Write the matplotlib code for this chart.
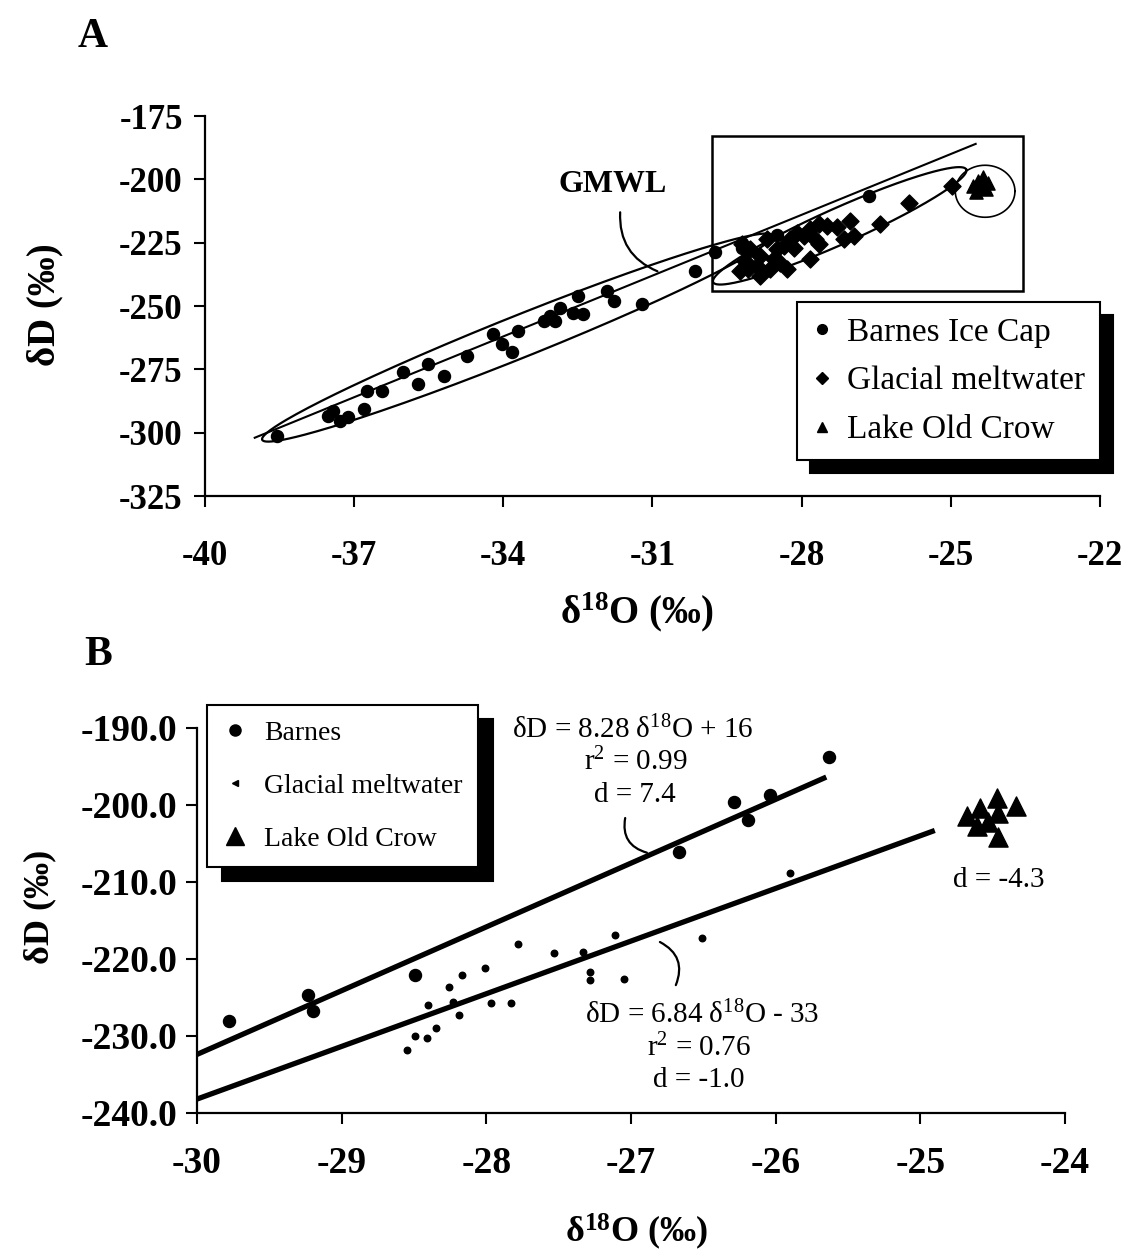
import numpy as np
import matplotlib.pyplot as plt
from matplotlib.patches import Rectangle
from matplotlib.lines import Line2D

plt.rcParams['font.family'] = ['Liberation Serif', 'DejaVu Serif']
plt.rcParams['mathtext.fontset'] = 'custom'
plt.rcParams['mathtext.rm'] = 'Liberation Serif'
plt.rcParams['mathtext.it'] = 'Liberation Serif:italic'
plt.rcParams['mathtext.bf'] = 'Liberation Serif:bold'
plt.rcParams['axes.unicode_minus'] = False

# ---- Panel A data ----
barnes_a_x = [-38.55, -37.52, -37.42, -37.28, -37.12, -36.81, -36.75, -36.45, -36.01, -35.71,
              -35.51, -35.20, -34.73, -34.20, -34.03, -33.83, -33.70, -33.19, -33.06, -32.96,
              -32.86, -32.59, -32.49, -32.39, -31.92, -31.78, -31.21, -30.14, -29.75, -29.20,
              -29.20, -28.50, -26.65]
barnes_a_y = [-301.2, -293.3, -291.4, -295.3, -294.0, -290.7, -283.5, -283.5, -276.2, -280.8,
              -273.0, -277.6, -269.7, -261.1, -265.1, -268.3, -259.8, -255.9, -253.9, -255.9,
              -250.6, -252.6, -246.0, -253.2, -244.0, -248.0, -249.3, -236.2, -228.5, -225.0,
              -227.0, -222.0, -206.6]

glacial_a_x = [-26.42, -27.02, -26.95, -27.15, -27.29, -27.49, -27.66, -27.73, -27.83, -27.66,
               -27.83, -27.96, -28.10, -28.23, -28.36, -28.50, -28.56, -28.43, -28.30, -28.63,
               -28.83, -28.90, -29.07, -29.24, -29.13, -29.03, -29.20, -28.70, -28.83, -28.16,
               -25.85, -24.98]
glacial_a_y = [-217.7, -216.4, -222.4, -223.7, -219.0, -218.4, -217.7, -223.7, -219.7, -225.6,
               -231.5, -222.4, -221.0, -223.7, -226.3, -227.6, -231.5, -232.9, -235.5, -235.5,
               -230.2, -234.2, -235.5, -236.2, -232.2, -227.6, -225.6, -223.7, -238.1, -227.0,
               -209.2, -202.6]

crow_a_x = [-24.55, -24.45, -24.35, -24.25, -24.40, -24.50, -24.30]
crow_a_y = [-202.5, -200.5, -199.0, -201.5, -203.5, -205.0, -204.0]

gmwl_x = [-39.0, -24.5]   # global meteoric water line dD = 8 d18O + 10

# ---- Panel B data ----
barnes_b_x = [-29.78, -29.23, -29.20, -28.49, -26.67, -26.19, -26.29, -26.04, -25.63]
barnes_b_y = [-228.1, -224.7, -226.8, -222.1, -206.1, -201.9, -199.6, -198.7, -193.8]

glacial_b_x = [-28.55, -28.49, -28.41, -28.35, -28.40, -28.26, -28.23, -28.19, -28.17, -28.01,
               -27.97, -27.83, -27.78, -27.53, -27.33, -27.28, -27.28, -27.11, -27.05, -26.51,
               -25.90]
glacial_b_y = [-231.8, -230.0, -230.3, -229.0, -226.0, -223.7, -225.6, -227.3, -222.1, -221.2,
               -225.7, -225.7, -218.0, -219.2, -219.1, -221.7, -222.7, -216.9, -222.6, -217.3,
               -208.9]

crow_b_x = [-24.68, -24.59, -24.61, -24.47, -24.46, -24.34, -24.46, -24.53]
crow_b_y = [-201.5, -200.4, -202.8, -199.1, -201.1, -200.2, -204.1, -202.2]

fit_barnes = (8.28, 16.0, [-30.0, -25.65])
fit_glacial = (6.84, -33.0, [-30.0, -24.9])

fig = plt.figure(figsize=(11.32, 12.57), dpi=100)
axA = fig.add_axes([0.1811, 0.6054, 0.7906, 0.3023])
axB = fig.add_axes([0.1740, 0.1146, 0.7668, 0.3063])


def style_axes(ax, xpad, ypad, size):
    for s in ['top', 'right']:
        ax.spines[s].set_visible(False)
    for s in ['left', 'bottom']:
        ax.spines[s].set_linewidth(1.6)
    ax.tick_params(axis='both', direction='out', width=1.5, length=8, labelsize=size)
    ax.tick_params(axis='x', pad=xpad)
    ax.tick_params(axis='y', pad=ypad)
    for lbl in ax.get_xticklabels() + ax.get_yticklabels():
        lbl.set_fontweight('bold')


def draw_ellipse(ax, p1, p2, half_minor_px, **kw):
    # long axis from p1 to p2 (data), width given in screen pixels
    bb = ax.get_position()
    sx = bb.width * fig.get_figwidth() * fig.dpi / np.diff(ax.get_xlim())[0]
    sy = bb.height * fig.get_figheight() * fig.dpi / np.diff(ax.get_ylim())[0]
    x1, y1 = p1[0] * sx, p1[1] * sy
    x2, y2 = p2[0] * sx, p2[1] * sy
    cx, cy = (x1 + x2) / 2, (y1 + y2) / 2
    a = np.hypot(x2 - x1, y2 - y1) / 2
    th = np.arctan2(y2 - y1, x2 - x1)
    t = np.linspace(0, 2 * np.pi, 300)
    ex = cx + a * np.cos(t) * np.cos(th) - half_minor_px * np.sin(t) * np.sin(th)
    ey = cy + a * np.cos(t) * np.sin(th) + half_minor_px * np.sin(t) * np.cos(th)
    ax.plot(ex / sx, ey / sy, color='black', **kw)


# ================= Panel A =================
axA.set_xlim(-40, -22)
axA.set_ylim(-325, -175)
axA.set_xticks(np.arange(-40, -21, 3))
axA.set_yticks(np.arange(-325, -174, 25))
style_axes(axA, 24, 8, 25)

axA.scatter(barnes_a_x, barnes_a_y, s=75, marker='o', color='black', zorder=3)
axA.scatter(glacial_a_x, glacial_a_y, s=75, marker='D', color='black', zorder=3)
axA.scatter(crow_a_x, crow_a_y, s=90, marker='^', color='black', zorder=3)

gx = np.array(gmwl_x)
axA.plot(gx, 8 * gx + 10, color='black', lw=1.5, zorder=2)

draw_ellipse(axA, (-38.85, -302.8), (-28.59, -222.1), 21, lw=1.6)
draw_ellipse(axA, (-29.78, -240.6), (-24.69, -196.1), 18, lw=1.6)
draw_ellipse(axA, (-24.91, -204.7), (-23.71, -204.7), 26, lw=1.2)

axA.add_patch(Rectangle((-29.81, -244.0), 6.27, 61.0, fill=False, lw=1.8,
                        edgecolor='black', zorder=2))

axA.text(-31.81, -202.0, 'GMWL', fontsize=23, fontweight='bold', ha='center', va='center')
axA.annotate('', xy=(-30.9, -236.3), xytext=(-31.65, -213.0),
             arrowprops=dict(arrowstyle='-', connectionstyle='arc3,rad=0.35', lw=1.6,
                             shrinkA=0, shrinkB=0))

hA = [Line2D([], [], ls='none', marker='o', ms=7, color='black'),
      Line2D([], [], ls='none', marker='D', ms=6, color='black'),
      Line2D([], [], ls='none', marker='^', ms=7, color='black')]
legA = axA.legend(hA, ['Barnes Ice Cap', 'Glacial meltwater', 'Lake Old Crow'],
                  loc='upper left', bbox_to_anchor=(0.6615, 0.5105), borderaxespad=0,
                  fontsize=24, frameon=True, fancybox=False, framealpha=1,
                  edgecolor='black', handlelength=0.6, handletextpad=0.45,
                  labelspacing=0.55, borderpad=0.45,
                  shadow={'ox': 9, 'oy': -9, 'facecolor': 'black', 'edgecolor': 'black', 'alpha': 1})
legA.get_frame().set_linewidth(1.5)

# ================= Panel B =================
axB.set_xlim(-30, -24)
axB.set_ylim(-240, -190)
axB.set_xticks(np.arange(-30, -23.9, 1))
axB.set_yticks(np.arange(-240, -189, 10))
axB.set_yticklabels([f'{v:.1f}' for v in np.arange(-240, -189, 10)])
style_axes(axB, 16, 6, 27)

for slope, icpt, xr in [fit_barnes, fit_glacial]:
    xr = np.array(xr)
    axB.plot(xr, slope * xr + icpt, color='black', lw=3.8, solid_capstyle='butt', zorder=2)

axB.scatter(barnes_b_x, barnes_b_y, s=75, marker='o', color='black', zorder=3)
axB.scatter(glacial_b_x, glacial_b_y, s=22, marker='o', color='black', zorder=3)
axB.scatter(crow_b_x, crow_b_y, s=190, marker='^', color='black', zorder=3)

fs = 21
axB.text(-26.99, -190.3, 'δD = 8.28 δ$^{18}$O + 16', fontsize=fs, ha='center', va='center')
axB.text(-26.97, -194.4, 'r$^{2}$ = 0.99', fontsize=fs, ha='center', va='center')
axB.text(-26.97, -198.7, 'd = 7.4', fontsize=fs, ha='center', va='center')
axB.text(-26.51, -227.3, 'δD = 6.84 δ$^{18}$O - 33', fontsize=fs, ha='center', va='center')
axB.text(-26.53, -231.6, 'r$^{2}$ = 0.76', fontsize=fs, ha='center', va='center')
axB.text(-26.53, -235.7, 'd = -1.0', fontsize=fs, ha='center', va='center')
axB.text(-24.46, -209.7, 'd = -4.3', fontsize=fs, ha='center', va='center')

axB.annotate('', xy=(-26.89, -206.2), xytext=(-27.04, -201.7),
             arrowprops=dict(arrowstyle='-', connectionstyle='arc3,rad=0.45', lw=1.6,
                             shrinkA=0, shrinkB=0))
axB.annotate('', xy=(-26.69, -223.4), xytext=(-26.80, -217.8),
             arrowprops=dict(arrowstyle='-', connectionstyle='arc3,rad=-0.45', lw=1.6,
                             shrinkA=0, shrinkB=0))

hB = [Line2D([], [], ls='none', marker='o', ms=8, color='black'),
      Line2D([], [], ls='none', marker='<', ms=4, color='black'),
      Line2D([], [], ls='none', marker='^', ms=13, color='black')]
legB = axB.legend(hB, ['Barnes', 'Glacial meltwater', 'Lake Old Crow'],
                  loc='upper left', bbox_to_anchor=(0.0115, 1.06), borderaxespad=0,
                  fontsize=20, frameon=True, fancybox=False, framealpha=1,
                  edgecolor='black', handlelength=0.9, handletextpad=0.6,
                  labelspacing=1.0, borderpad=0.55,
                  shadow={'ox': 11, 'oy': -10, 'facecolor': 'black', 'edgecolor': 'black', 'alpha': 1})
legB.get_frame().set_linewidth(1.5)

# ---- axis labels and panel letters ----
fig.text(0.0398, 0.7574, 'δD (‰)', fontsize=28, fontweight='bold', rotation=90,
         ha='center', va='center')
fig.text(0.5627, 0.5131, 'δ$^{\\mathbf{18}}$O (‰)', fontsize=28, fontweight='bold',
         ha='center', va='center')
fig.text(0.0353, 0.2784, 'δD (‰)', fontsize=26, fontweight='bold', rotation=90,
         ha='center', va='center')
fig.text(0.5627, 0.0199, 'δ$^{\\mathbf{18}}$O (‰)', fontsize=26, fontweight='bold',
         ha='center', va='center')
fig.text(0.0822, 0.9706, 'A', fontsize=30, fontweight='bold', ha='center', va='center')
fig.text(0.0866, 0.4789, 'B', fontsize=30, fontweight='bold', ha='center', va='center')

fig.savefig('out.png', dpi=100)
